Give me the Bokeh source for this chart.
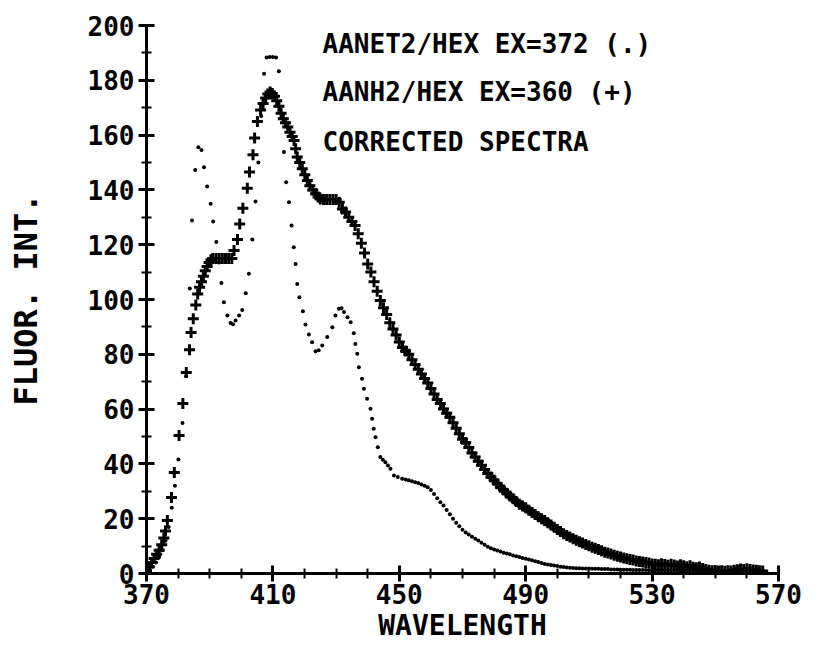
from bokeh.plotting import figure
from bokeh.models import Range1d, FixedTicker, Label
from bokeh.embed import file_html
from bokeh.resources import INLINE

# ---- data ----
# AANH2/HEX  EX=360  (+)
plus_x = [370, 370.8, 371.6, 372.4, 373.2, 374, 374.8, 375.5, 376, 376.6, 377.9, 378.8,
          380.3, 381.5, 382.6, 383.6, 384.1, 384.8, 385.6, 386.2, 386.8, 387.4, 388, 388.6,
          389.2, 389.8, 390.4, 391, 392, 393, 394, 395, 396, 397, 397.7, 398.8, 399.5,
          400.5, 401.9, 402.6, 403.7, 404.2, 405.1, 406.1, 406.9, 407.7, 408.4, 409.1,
          409.8, 410.5, 411.2, 411.9, 412.6, 413.3, 414, 414.7, 415.4, 416.1, 416.7, 417.2,
          417.7, 418.5, 419.3, 420.1, 420.9, 421.7, 422.6, 423.5, 424.3, 425, 426, 427, 428,
          429, 430, 431, 432, 433, 434, 435, 436, 437, 438, 439, 440, 441, 442, 443, 444,
          445, 446, 447, 448, 449, 450, 451, 452, 453, 454, 455, 456, 457, 458, 459, 460,
          461, 462, 463, 464, 465, 466, 467, 468, 469, 470, 471, 472, 473, 474, 475, 476,
          477, 478, 479, 480, 481, 482, 483, 484, 485, 486, 487, 488, 489, 490, 491, 492,
          493, 494, 495, 496, 497, 498, 499, 500, 501, 502, 503, 504, 505, 506, 507, 508,
          509, 510, 511, 512, 513, 514, 515, 516, 517, 518, 519, 520, 521, 522, 523, 524,
          525, 526, 527, 528, 529, 530, 531, 532, 533, 534, 535, 536, 537, 538, 539, 540,
          541, 542, 543, 544, 545, 546, 547, 548, 549, 550, 551, 552, 553, 554, 555, 556,
          557, 558, 559, 560, 561, 562, 563, 564, 565]
plus_y = [1, 2.5, 4, 5.5, 7, 8.5, 10.5, 13, 15.5, 19.3, 27.7, 36.9,
          50.4, 62, 73.4, 81.7, 88, 93, 98, 102, 104.5, 106.5, 108.5, 110.5,
          112, 113.5, 114.5, 115, 115, 115, 115, 115, 115, 115, 117.9, 121.9, 127.6,
          133.3, 140.6, 146.5, 152.8, 158.9, 165, 169.2, 171.5, 173.5, 175, 175.7,
          175.2, 174.2, 172.5, 170.5, 168, 166, 164.5, 163, 161, 159.5, 158, 155,
          152, 150, 147.7, 145.5, 143.4, 141.5, 140, 138.6, 137.4, 136.7, 136.5, 136.5, 136.5,
          136.5, 136.5, 135.5, 133, 131.9, 130, 128.5, 127, 124, 120.5, 117, 113, 110, 106.5, 103, 99.6,
          97, 94.5, 91.5, 89.2, 87, 84.5, 82.5, 81.2, 80, 78, 76.3, 74.5, 72.8, 71.2, 69.5, 67.5,
          65.5, 63.5, 62, 60, 58.5, 57, 55, 53, 51, 49, 47.8, 46, 44, 42.5, 41, 39.5,
          38, 36.5, 35.2, 34, 32.8, 31.5, 30.5, 29.3, 28.3, 27.3, 26.3, 25.3, 24.6, 24, 23.1, 22.3,
          21.5, 20.7, 20, 19.3, 18.5, 17.7, 16.9, 16.1, 15.3, 14.5, 13.9, 13.3, 12.7, 12.1, 11.6, 11.1,
          10.6, 10.1, 9.6, 9.2, 8.8, 8.3, 7.8, 7.5, 7.1, 6.7, 6.3, 6, 5.7, 5.4, 5.1, 4.9,
          4.6, 4.4, 4.2, 4, 3.8, 3.5, 3.4, 3.2, 3.6, 3.3, 3, 3.4, 3.1, 2.7, 3.2, 2.8,
          2.5, 2.8, 2.3, 2.1, 2.4, 1.8, 1.5, 1.2, 1, 1.1, 0.9, 1, 0.8, 1, 0.9, 1.2,
          1.4, 1.6, 1.5, 1.7, 1.5, 1.3, 1.2, 1, 0.9]

# AANET2/HEX EX=372  (.)
dot_x = [371, 372, 373, 374, 375, 376, 377, 378, 379, 380.1, 381.4, 382.5, 383.7, 384.4,
         385.4, 386.4, 387.4, 388.2, 389.2, 390.3, 391.1, 392.1, 392.9, 393.7, 394.5,
         395.6, 396.6, 397.4, 398.2, 399.3, 400.3, 401.4, 402.4, 403.5, 404.5, 405.4,
         406.3, 407.2, 408, 409, 410, 411, 411.9, 413.5, 414.2, 415.1, 415.9, 416.6,
         417.2, 417.7, 418.4, 419.5, 420.3, 421.4, 422.4, 423.5, 424.5, 425.6, 427.2,
         428.8, 429.8, 430.9, 431.7, 432.5, 433.6, 434.6, 435.6, 436.1, 436.7, 437.2,
         438.2, 438.8, 439.8, 440.9, 441.4, 441.9, 442.5, 443.2, 444, 444.8, 445.6,
         446.4, 447.2, 448.3, 449.5, 450.9, 452, 453, 454, 455, 456, 457, 458, 459, 460,
         461, 462, 463, 464, 465, 466, 467, 468, 469, 470, 471, 472, 473, 474, 475, 476,
         477, 478, 479, 480, 481, 482, 483, 484, 485, 486, 487, 488, 489, 490, 491, 492,
         493, 494, 495, 496, 497, 498, 499, 500, 501, 502, 503, 504, 505, 506, 507, 508,
         509, 510, 511, 512, 513, 514, 515, 516, 517, 518, 519, 520, 521, 522, 523, 524,
         525, 526, 527, 528, 529, 530, 531, 532, 533, 534, 535, 536, 537, 538, 539, 540,
         541, 542, 543, 544, 545, 546, 547, 548, 549, 550]
dot_y = [1.5, 2.5, 4, 6, 8.5, 12, 17, 24, 32, 41.6, 54.9, 72, 104, 128.8,
         147.3, 155.6, 154.6, 148.3, 141.2, 134.9, 128.5, 121, 113.5, 106, 99,
         94.2, 91.4, 91, 92.3, 94.2, 96.2, 102.3, 109.4, 121.9, 135.8, 150,
         167, 182.4, 188.3, 188.5, 188.5, 188.3, 183.3, 153.8, 142.8, 135.5, 127, 119.1,
         113, 105.7, 100.8, 95.7, 90.9, 87.2, 84.4, 81.1, 81.5, 83.2, 86.3,
         89.9, 94.2, 96.6, 96.8, 95.4, 93.5, 91.7, 87.7, 83.8, 80.2, 75.3,
         71.1, 67.4, 63.8, 60.1, 56.5, 52.8, 49.7, 46.1, 42.5, 41.5, 40.6,
         39.4, 38.2, 35.8, 35.2, 34.6, 34.3, 34, 33.7, 33.3, 33, 32.5, 32, 31.5, 30.5,
         29, 27.5, 26, 24.8, 23.2, 21.6, 20, 18.5, 17.2, 16, 15, 14.2, 13.4, 12.7, 12, 11.2,
         10.5, 9.8, 9.2, 8.8, 8.4, 8, 7.6, 7.3, 7, 6.6, 6.3, 6, 5.7, 5.4, 5.1, 4.8,
         4.5, 4.2, 3.8, 3.5, 3.3, 3.1, 2.9, 2.7, 2.5, 2.4, 2.2, 2.1, 2, 1.9, 1.9, 1.8,
         1.8, 1.8, 1.7, 1.7, 1.7, 1.6, 1.6, 1.6, 1.5, 1.5, 1.5, 1.4, 1.4, 1.4, 1.4, 1.3,
         1.3, 1.3, 1.3, 1.3, 1.2, 1.2, 1.2, 1.2, 1.2, 1.2, 1.2, 1.2, 1.2, 1.2, 1.2, 1.2,
         1.2, 1.2, 1.2, 1.2, 1.2, 1.2, 1.2, 1.2, 1.2, 1.2]

x_ticks = [370, 410, 450, 490, 530, 570]
x_minor = [380, 390, 400, 420, 430, 440, 460, 470, 480, 500, 510, 520, 540, 550, 560]
y_ticks = [0, 20, 40, 60, 80, 100, 120, 140, 160, 180, 200]
y_minor = [10, 30, 50, 70, 90, 110, 130, 150, 170, 190]

legend_lines = ["AANET2/HEX EX=372 (.)", "AANH2/HEX  EX=360 (+)", "CORRECTED SPECTRA"]
legend_y = [193.4, 175.6, 157.4]
x_title = "WAVELENGTH"
y_title = "FLUOR. INT."

FONT = "DejaVu Sans Mono"

p = figure(width=813, height=649, x_range=Range1d(370, 570), y_range=Range1d(0, 200),
           output_backend="svg", toolbar_location=None,
           min_border_left=146, min_border_right=35, min_border_top=25, min_border_bottom=76)
p.outline_line_color = None
p.xgrid.visible = False
p.ygrid.visible = False
p.background_fill_color = "white"
p.border_fill_color = "white"

p.xaxis.ticker = FixedTicker(ticks=x_ticks, minor_ticks=x_minor)
p.yaxis.ticker = FixedTicker(ticks=y_ticks, minor_ticks=y_minor)
for ax in (p.xaxis, p.yaxis):
    ax.axis_line_width = 3
    ax.axis_line_color = "black"
    ax.major_tick_line_width = 3
    ax.major_tick_line_color = "black"
    ax.major_tick_in = 8
    ax.major_tick_out = 8
    ax.minor_tick_line_width = 2
    ax.minor_tick_line_color = "black"
    ax.minor_tick_in = 5
    ax.minor_tick_out = 5
    ax.major_label_text_font = FONT
    ax.major_label_text_font_size = "26px"
    ax.major_label_text_font_style = "bold"
    ax.major_label_text_color = "black"
    ax.axis_label_text_font = FONT
    ax.axis_label_text_font_style = "bold"
    ax.axis_label_text_color = "black"
p.yaxis.major_label_standoff = 4
p.xaxis.major_label_standoff = 2
p.xaxis.axis_label = x_title
p.xaxis.axis_label_text_font_size = "28px"
p.xaxis.axis_label_standoff = 2
p.yaxis.axis_label = y_title
p.yaxis.axis_label_text_font_size = "32px"
p.yaxis.axis_label_standoff = 40

p.scatter(dot_x, dot_y, marker="circle", size=4, fill_color="black", line_color=None)
p.scatter(plus_x, plus_y, marker="cross", size=11, line_width=3, line_color="black")

for t, ly in zip(legend_lines, legend_y):
    p.add_layout(Label(x=425.7, y=ly, text=t, text_font=FONT, text_font_style="bold",
                       text_font_size="26px", text_baseline="middle", text_color="black"))

open("out.html", "w").write(file_html(p, INLINE))
